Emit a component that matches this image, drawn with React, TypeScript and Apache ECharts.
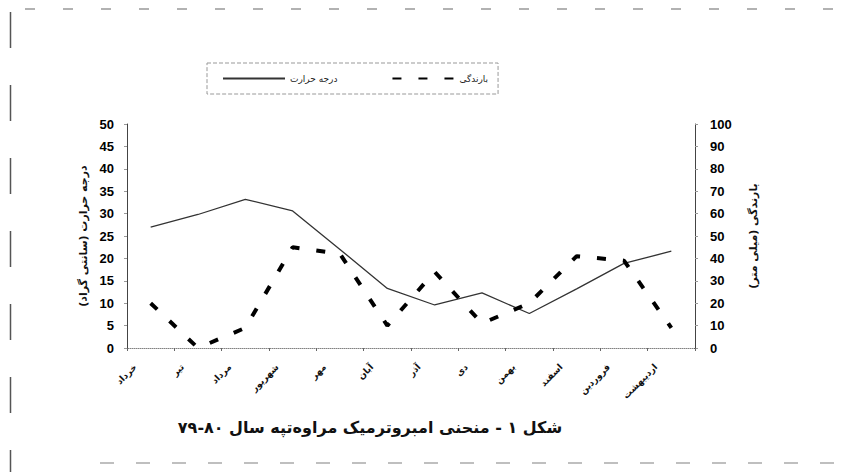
import React, { useEffect, useRef } from "react";
import * as echarts from "echarts";

const months = ["خرداد", "تیر", "مرداد", "شهریور", "مهر", "آبان", "آذر", "دی", "بهمن", "اسفند", "فروردین", "اردیبهشت"];
const temperature = [27, 29.8, 33.2, 30.6, 22, 13.3, 9.6, 12.3, 7.7, 13.2, 18.9, 21.6];
const rainfall = [20, 0, 9, 45, 42, 10, 34, 11, 20, 41, 39, 9];
const tempAxis = { min: 0, max: 50, interval: 5 };
const rainAxis = { min: 0, max: 100, interval: 10 };
const tempName = "درجه حرارت";
const rainName = "بارندگی";
const tempAxisName = "درجه حرارت (سانتی گراد)\u200F";
const rainAxisName = "بارندگی (میلی متر)\u200F";
const titleText = "شکل ۱ - منحنی امبروترمیک مراوه‌تپه سال ۸۰-۷۹";

const FA = "DejaVu Sans";
const NUM = "Liberation Sans";

export default function App() {
  const ref = useRef<HTMLDivElement>(null);
  useEffect(() => {
    if (!ref.current) return;
    const chart = echarts.init(ref.current, null, { renderer: "svg" });
    chart.setOption({
      animation: false,
      backgroundColor: "#ffffff",
      textStyle: { fontFamily: FA },
      legend: {
        left: 207,
        top: 63,
        data: [tempName, rainName],
        itemWidth: 62,
        itemHeight: 10,
        itemGap: 54,
        padding: [11, 10, 11, 15],
        borderColor: "#999",
        borderWidth: 1,
        borderType: "dashed",
        itemStyle: { opacity: 0 },
        textStyle: { fontSize: 9, color: "#222", fontFamily: FA },
      },
      grid: { left: 127, right: 150, top: 124, bottom: 124 },
      xAxis: [
        {
          type: "category",
          data: months,
          boundaryGap: true,
          axisLine: { lineStyle: { color: "#222", width: 1 } },
          axisTick: { show: true, length: 3, lineStyle: { color: "#666" } },
          axisLabel: {
            interval: 0,
            rotate: 45,
            margin: 2,
            padding: [0, 22, 0, 0],
            fontSize: 9,
            fontWeight: "bold",
            color: "#111",
            fontFamily: FA,
          },
        },
        {
          type: "category",
          data: months,
          position: "top",
          boundaryGap: true,
          axisLine: { lineStyle: { color: "#bbb", width: 1, type: "dotted" } },
          axisTick: { show: false },
          axisLabel: { show: false },
        },
      ],
      yAxis: [
        {
          type: "value",
          min: tempAxis.min,
          max: tempAxis.max,
          interval: tempAxis.interval,
          position: "left",
          name: tempAxisName,
          nameLocation: "middle",
          nameGap: 31,
          nameRotate: 90,
          nameTextStyle: { fontSize: 11, fontWeight: "bold", color: "#111", fontFamily: FA },
          axisLine: { show: true, lineStyle: { color: "#444", width: 1 } },
          axisTick: { show: true, length: 3, lineStyle: { color: "#999" } },
          axisLabel: { fontSize: 13, fontWeight: "bold", color: "#000", fontFamily: NUM, margin: 13 },
          splitLine: { show: false },
        },
        {
          type: "value",
          min: rainAxis.min,
          max: rainAxis.max,
          interval: rainAxis.interval,
          position: "right",
          name: rainAxisName,
          nameLocation: "middle",
          nameGap: 53,
          nameRotate: 90,
          nameTextStyle: { fontSize: 11, fontWeight: "bold", color: "#111", fontFamily: FA },
          axisLine: { show: true, lineStyle: { color: "#444", width: 1 } },
          axisTick: { show: true, length: 3, lineStyle: { color: "#999" } },
          axisLabel: { fontSize: 13, fontWeight: "bold", color: "#000", fontFamily: NUM, margin: 15 },
          splitLine: { show: false },
        },
      ],
      series: [
        {
          name: tempName,
          type: "line",
          yAxisIndex: 0,
          data: temperature,
          symbol: "none",
          lineStyle: { color: "#333", width: 1.3 },
          itemStyle: { color: "#333" },
        },
        {
          name: rainName,
          type: "line",
          yAxisIndex: 1,
          data: rainfall,
          symbol: "none",
          lineStyle: { color: "#000", width: 4, type: [9, 17], cap: "butt" },
          itemStyle: { color: "#000" },
        },
      ],
      graphic: [
        {
          type: "text",
          x: 370,
          y: 427,
          style: {
            text: titleText,
            align: "center",
            verticalAlign: "middle",
            font: `bold 16px "${FA}"`,
            fill: "#111",
          },
        },
        {
          type: "line",
          shape: { x1: 25, y1: 9, x2: 845, y2: 9 },
          style: { stroke: "#999", lineWidth: 1.5, lineDash: [10, 28] },
        },
        {
          type: "line",
          shape: { x1: 10.5, y1: 12, x2: 10.5, y2: 472 },
          style: { stroke: "#555", lineWidth: 1.5, lineDash: [36, 37] },
        },
        {
          type: "line",
          shape: { x1: 100, y1: 463, x2: 845, y2: 463 },
          style: { stroke: "#aaa", lineWidth: 1.5, lineDash: [14, 22] },
        },
      ],
    });
    return () => chart.dispose();
  }, []);
  return (
    <div
      ref={ref}
      style={{ position: "fixed", left: 0, top: 0, width: 845, height: 472, background: "#fff" }}
    />
  );
}
